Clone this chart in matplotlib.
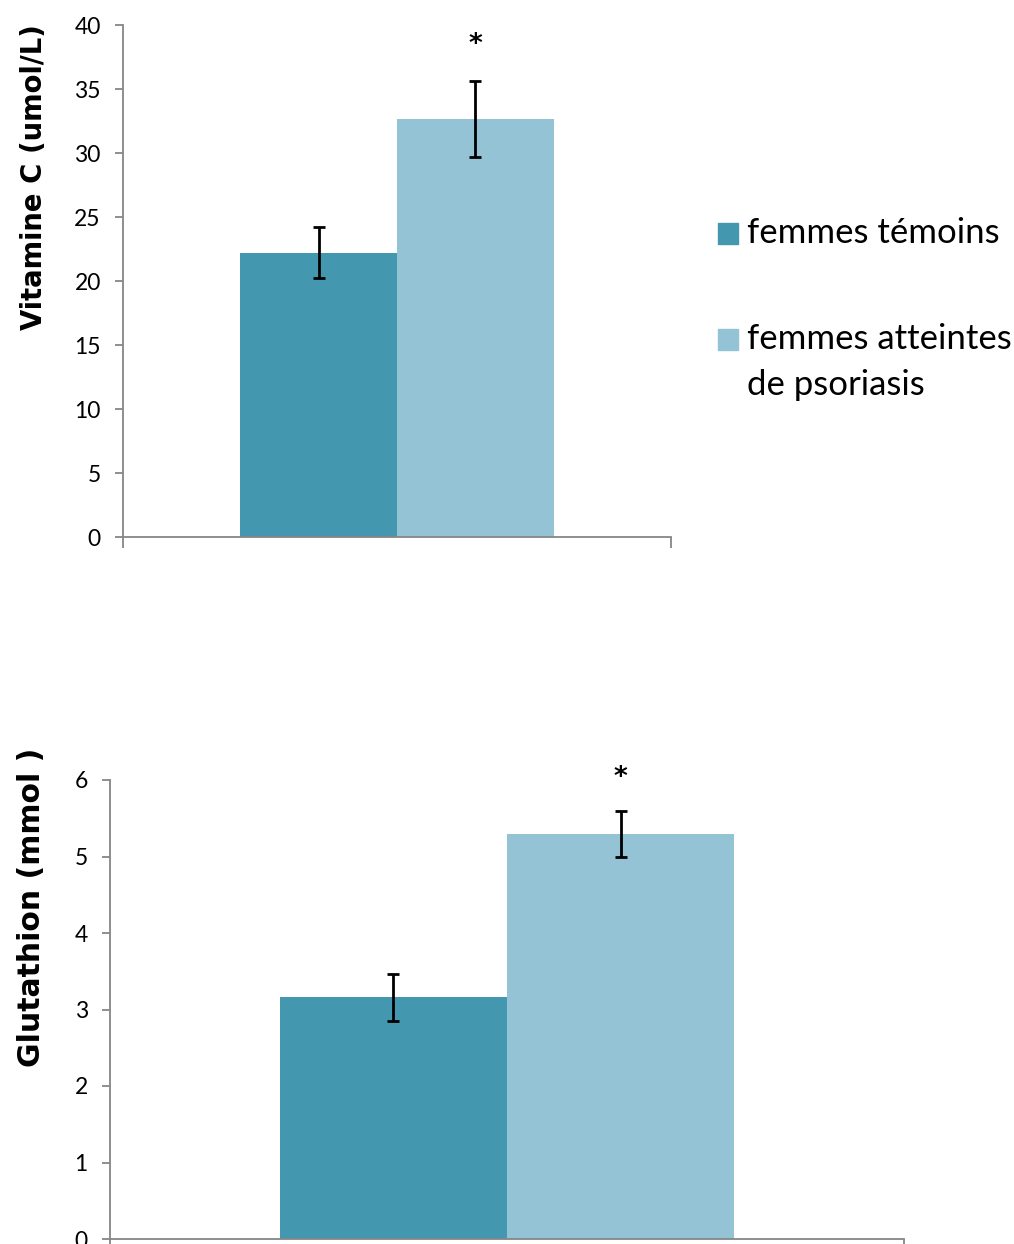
import matplotlib
matplotlib.use("Agg")
import matplotlib.pyplot as plt
from matplotlib.patches import Rectangle

plt.rcParams['font.family'] = ['Lato', 'DejaVu Sans']

# ---- data ----
series = ["femmes témoins", "femmes atteintes\nde psoriasis"]
vitc_values = [22.2, 32.65]
vitc_errors = [2.0, 3.0]
glut_values = [3.16, 5.29]
glut_errors = [0.31, 0.30]
vitc_ticks = [0, 5, 10, 15, 20, 25, 30, 35, 40]
glut_ticks = [0, 1, 2, 3, 4, 5, 6]
vitc_label = "Vitamine C (umol/L)"
glut_label = "Glutathion (mmol )"
significance = ["", "*"]

colors = ["#4397AF", "#93C3D4"]
spine_color = "#868686"

W, H = 1014, 1244
fig = plt.figure(figsize=(W / 100, H / 100), dpi=100)

def px_axes(x0, y0, x1, y1):
    return fig.add_axes([x0 / W, 1 - y1 / H, (x1 - x0) / W, (y1 - y0) / H])

def draw(ax, values, errors, ticks, ylabel, star_y, label_size):
    width = 0.286
    offsets = [-width / 2, width / 2]
    for i, (v, e) in enumerate(zip(values, errors)):
        ax.bar(offsets[i], v, width=width, color=colors[i], zorder=2)
        ax.errorbar(offsets[i], v, yerr=e, fmt='none', ecolor='black',
                    elinewidth=2.0, capsize=4.3, capthick=2.0, zorder=3)
        if significance[i]:
            ax.text(offsets[i], star_y, significance[i], ha='center', va='center',
                    fontsize=19, fontweight='bold', family=['DejaVu Sans'],
                    clip_on=False)
    ax.set_xlim(-0.5, 0.5)
    ax.set_ylim(ticks[0], ticks[-1])
    ax.set_yticks(ticks)
    ax.set_xticks([-0.5, 0.5])
    ax.set_xticklabels([])
    for s in ['top', 'right']:
        ax.spines[s].set_visible(False)
    for s in ['left', 'bottom']:
        ax.spines[s].set_color(spine_color)
        ax.spines[s].set_linewidth(1.3)
    ax.tick_params(axis='y', direction='out', length=6, width=1.3, color=spine_color,
                   labelsize=16.5, pad=10)
    ax.tick_params(axis='x', direction='out', length=8, width=1.3, color=spine_color)
    ax.set_ylabel(ylabel, fontsize=label_size, fontweight='bold',
                  family=['DejaVu Sans'])
    return ax

ax1 = px_axes(123, 25, 671, 537)
draw(ax1, vitc_values, vitc_errors, vitc_ticks, vitc_label, 38.4, 19.8)
ax1.yaxis.set_label_coords((48 - 123) / 548, (537 - 177) / 512)

ax2 = px_axes(110, 780, 904, 1239)
draw(ax2, glut_values, glut_errors, glut_ticks, glut_label, 6.03, 21.5)
ax2.yaxis.set_label_coords((46 - 110) / 794, (1239 - 907) / 459)

# legend (manual, Excel-like)
leg_items = [(series[0], 233), (series[1], 339)]
for i, (lab, yc) in enumerate(leg_items):
    fig.patches.append(Rectangle((718 / W, 1 - (yc + 11) / H), 20 / W, 21 / H,
                                 transform=fig.transFigure, color=colors[i]))
    for j, ln in enumerate(lab.split("\n")):
        fig.text(747 / W, 1 - (yc + j * 46) / H, ln, fontsize=25,
                 va='center', ha='left')

fig.savefig("out.png", dpi=100)
